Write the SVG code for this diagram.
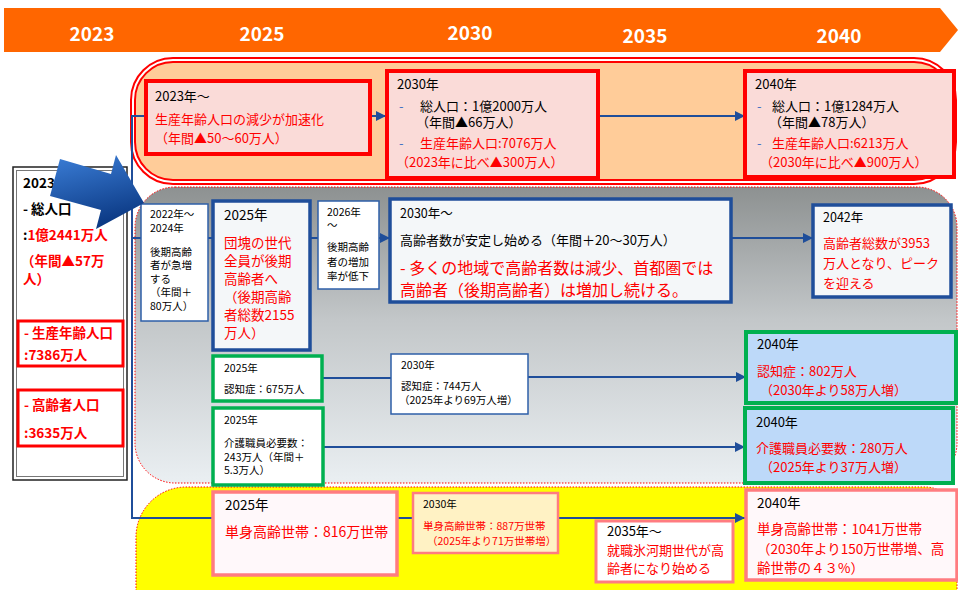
<svg xmlns="http://www.w3.org/2000/svg" width="958" height="590" viewBox="0 0 958 590">
<defs>
<style>
text{font-family:"Noto Sans CJK JP","Noto Sans",sans-serif;fill:#000}
.yr{font-size:19px;font-weight:bold;fill:#fff;text-anchor:middle}
.r{fill:#FF0000}
.bl{fill:#4472C4}
.bd{font-weight:bold}
.f10{font-size:10.5px}
.f12{font-size:12.5px}
.f13{font-size:13px}
.f135{font-size:13.5px}
.f14{font-size:14px}
.f16{font-size:16px}
.conn{fill:none;stroke:#1F4E9A;stroke-width:2}
.pinkbox{fill:#FADBD8;stroke:#FF0000;stroke-width:4}
.thinblue{fill:#FFFFFF;stroke:#2E5FA8;stroke-width:1.5}
.thickblue{fill:#F4F7F9;stroke:#1F4E9A;stroke-width:3.5}
.greenw{fill:#FFFFFF;stroke:#00B050;stroke-width:3.5}
.greenb{fill:#BDD9F9;stroke:#00B050;stroke-width:4}
.pk{fill:#FFF8FA;stroke:#FF7C80;stroke-width:3.5}
.dotted{stroke:#FF0000;stroke-width:1;stroke-dasharray:1.5 1.5}
.leftred{fill:none;stroke:#FF0000;stroke-width:3}
</style>
<linearGradient id="grayGrad" x1="0" y1="0" x2="0" y2="1">
<stop offset="0" stop-color="#8D9191"/>
<stop offset="0.45" stop-color="#C3C7C9"/>
<stop offset="1" stop-color="#EAEFF2"/>
</linearGradient>
<linearGradient id="arrowGrad" x1="0" y1="0" x2="0.3" y2="1">
<stop offset="0" stop-color="#3C7FD8"/>
<stop offset="1" stop-color="#0C3A85"/>
</linearGradient>
<marker id="ah" markerWidth="10" markerHeight="10" refX="10" refY="5" orient="auto" markerUnits="userSpaceOnUse">
<path d="M0,0 L10,5 L0,10 Z" fill="#1F4E9A"/>
</marker>
</defs>

<rect x="0" y="0" width="958" height="590" fill="#FFFFFF"/>

<g id="timeline">
<polygon points="4,8 940,8 958,30 940,52 4,52" fill="#FF6600"/>
<text class="yr" x="92" y="41">2023</text>
<text class="yr" x="262" y="41">2025</text>
<text class="yr" x="470" y="40">2030</text>
<text class="yr" x="645" y="43">2035</text>
<text class="yr" x="839" y="43">2040</text>
</g>

<g id="bands">
<rect x="131" y="58" width="825" height="126" rx="42" fill="#FFFFFF" stroke="#FF0000" stroke-width="2"/>
<rect x="135" y="62" width="817" height="118" rx="38" fill="#FFCC99" stroke="#FF0000" stroke-width="2"/>
<rect class="dotted" x="135" y="187" width="822" height="296" rx="40" fill="url(#grayGrad)"/>
<path class="dotted" d="M136,600 V537 A50,50 0 0 1 186,487 H925 A32,32 0 0 1 957,519 V600 Z" fill="#FFFF00"/>
</g>

<g id="connectors">
<path class="conn" d="M146,116 H132 V518 H745" marker-end="url(#ah)"/>
<path class="conn" d="M371,116 H386" marker-end="url(#ah)"/>
<path class="conn" d="M598,116 H745" marker-end="url(#ah)"/>
<path class="conn" d="M132,238 H390" marker-end="url(#ah)"/>
<path class="conn" d="M731,238 H813" marker-end="url(#ah)"/>
<path class="conn" d="M322,378 H391"/>
<path class="conn" d="M528,377 H746" marker-end="url(#ah)"/>
<path class="conn" d="M323,447 H745" marker-end="url(#ah)"/>
</g>

<g id="n-2023">
<rect x="13" y="167" width="114" height="313" fill="#FFFFFF" stroke="#222" stroke-width="1.5"/>
<rect x="16.5" y="170.5" width="107" height="306" fill="none" stroke="#777" stroke-width="1"/>
<text class="f135 bd" x="23" y="188">2023年</text>
<text class="f135 bd" x="23" y="214">- 総人口</text>
<text class="f135 bd" x="23" y="240">:<tspan class="r">1億2441万人</tspan></text>
<text class="f135 bd r" x="21" y="266">（年間▲57万</text>
<text class="f135 bd r" x="23" y="284">人）</text>
<rect class="leftred" x="18" y="321" width="105" height="45"/>
<text class="f135 bd r" x="24" y="338">- 生産年齢人口</text>
<text class="f135 bd r" x="24" y="360">:7386万人</text>
<rect class="leftred" x="18" y="390" width="105" height="56"/>
<text class="f135 bd r" x="24" y="410">- 高齢者人口</text>
<text class="f135 bd r" x="24" y="438">:3635万人</text>
</g>

<g id="n-2023-accel">
<rect class="pinkbox" x="146" y="81" width="224" height="73"/>
<text class="f13" x="155" y="101">2023年〜</text>
<text class="f13 r" x="155" y="124">生産年齢人口の減少が加速化</text>
<text class="f13 r" x="155" y="143">（年間▲50〜60万人）</text>
</g>

<g id="n-2030-pop">
<rect class="pinkbox" x="387" y="71" width="211" height="107"/>
<text class="f13" x="397" y="89">2030年</text>
<text class="f13 bl" x="399" y="111">-</text>
<text class="f13" x="420" y="111">総人口：1億2000万人</text>
<text class="f13" x="416" y="127">（年間▲66万人）</text>
<text class="f13 bl" x="399" y="148">-</text>
<text class="f13 r" x="420" y="148">生産年齢人口:7076万人</text>
<text class="f13 r" x="396" y="167">（2023年に比べ▲300万人）</text>
</g>

<g id="n-2040-pop">
<rect class="pinkbox" x="745" y="71" width="209" height="106"/>
<text class="f13" x="755" y="89">2040年</text>
<text class="f13 bl" x="757" y="111">-</text>
<text class="f13" x="772" y="111">総人口：1億1284万人</text>
<text class="f13" x="769" y="127">（年間▲78万人）</text>
<text class="f13 bl" x="757" y="148">-</text>
<text class="f13 r" x="772" y="148">生産年齢人口:6213万人</text>
<text class="f13 r" x="760" y="167">（2030年に比べ▲900万人）</text>
</g>

<g id="n-2022">
<rect class="thinblue" x="141" y="204" width="67" height="117"/>
<text class="f10" x="150" y="218">2022年〜</text>
<text class="f10" x="150" y="232">2024年</text>
<text class="f10" x="150" y="256">後期高齢</text>
<text class="f10" x="150" y="269">者が急増</text>
<text class="f10" x="150" y="283">する</text>
<text class="f10" x="150" y="296">（年間＋</text>
<text class="f10" x="150" y="310">80万人）</text>
</g>

<g id="n-2025">
<rect class="thickblue" x="213" y="201" width="97" height="149"/>
<text class="f135" x="224" y="220">2025年</text>
<text class="f135 r" x="224" y="248">団塊の世代</text>
<text class="f135 r" x="224" y="266">全員が後期</text>
<text class="f135 r" x="224" y="284">高齢者へ</text>
<text class="f135 r" x="224" y="302">（後期高齢</text>
<text class="f135 r" x="224" y="320">者総数2155</text>
<text class="f135 r" x="224" y="338">万人）</text>
</g>

<g id="n-2026">
<rect class="thinblue" x="318" y="201" width="61" height="88"/>
<text class="f10" x="327" y="216">2026年</text>
<text class="f10" x="327" y="229">〜</text>
<text class="f10" x="327" y="251">後期高齢</text>
<text class="f10" x="327" y="266">者の増加</text>
<text class="f10" x="327" y="280">率が低下</text>
</g>

<g id="n-2030-elder">
<rect class="thickblue" x="390" y="199" width="341" height="103"/>
<text class="f12" x="400" y="218">2030年〜</text>
<text class="f13" x="400" y="245">高齢者数が安定し始める（年間＋20〜30万人）</text>
<text class="f16 r" x="400" y="274">- 多くの地域で高齢者数は減少、首都圏では</text>
<text class="f16 r" x="400" y="296">高齢者（後期高齢者）は増加し続ける。</text>
</g>

<g id="n-2042">
<rect class="thickblue" x="813" y="205" width="138" height="92"/>
<text class="f12" x="823" y="222">2042年</text>
<text class="f13 r" x="823" y="248">高齢者総数が3953</text>
<text class="f13 r" x="823" y="268">万人となり、ピーク</text>
<text class="f13 r" x="823" y="288">を迎える</text>
</g>

<g id="n-dem-2025">
<rect class="greenw" x="213" y="356" width="109" height="45"/>
<text class="f10" x="224" y="372">2025年</text>
<text class="f10" x="224" y="393">認知症：675万人</text>
</g>

<g id="n-dem-2030">
<rect class="thinblue" x="391" y="354" width="137" height="60"/>
<text class="f10" x="401" y="369">2030年</text>
<text class="f10" x="401" y="390">認知症：744万人</text>
<text class="f10" x="399" y="404">（2025年より69万人増）</text>
</g>

<g id="n-dem-2040">
<rect class="greenb" x="746" y="332" width="210" height="71"/>
<text class="f13" x="757" y="349">2040年</text>
<text class="f13 r" x="757" y="376">認知症：802万人</text>
<text class="f13 r" x="760" y="395">（2030年より58万人増）</text>
</g>

<g id="n-care-2025">
<rect class="greenw" x="213" y="408" width="110" height="77"/>
<text class="f10" x="224" y="424">2025年</text>
<text class="f10" x="224" y="447">介護職員必要数：</text>
<text class="f10" x="224" y="461">243万人（年間＋</text>
<text class="f10" x="224" y="474">5.3万人）</text>
</g>

<g id="n-care-2040">
<rect class="greenb" x="745" y="408" width="208" height="75"/>
<text class="f13" x="756" y="427">2040年</text>
<text class="f13 r" x="756" y="453">介護職員必要数：280万人</text>
<text class="f13 r" x="760" y="472">（2025年より37万人増）</text>
</g>

<g id="n-single-2025">
<rect class="pk" x="213" y="492" width="184" height="83"/>
<text class="f135" x="225" y="510">2025年</text>
<text class="f14 r" x="225" y="537">単身高齢世帯：816万世帯</text>
</g>

<g id="n-single-2030">
<rect x="413" y="493" width="145" height="60" fill="#FFF2C4" stroke="#FF7C80" stroke-width="2.5"/>
<text class="f10" x="423" y="508">2030年</text>
<text class="f10 r" x="423" y="530">単身高齢世帯：887万世帯</text>
<text class="f10 r" x="427" y="545">（2025年より71万世帯増）</text>
</g>

<g id="n-hyoga">
<rect x="596" y="521" width="137" height="61" fill="#FFFFFF" stroke="#FF7C80" stroke-width="3"/>
<text class="f13" x="607" y="536">2035年〜</text>
<text class="f13 r" x="607" y="555">就職氷河期世代が高</text>
<text class="f13 r" x="607" y="573">齢者になり始める</text>
</g>

<g id="n-single-2040">
<rect class="pk" x="746" y="490" width="211" height="90"/>
<text class="f135" x="757" y="508">2040年</text>
<text class="f135 r" x="757" y="534">単身高齢世帯：1041万世帯</text>
<text class="f135 r" x="757" y="554">（2030年より150万世帯増、高</text>
<text class="f135 r" x="757" y="573">齢世帯の４３%）</text>
</g>

<g id="big-arrow">
<polygon points="60,159 111,174 116,155 144,203 96,229 101,210 50,196" fill="url(#arrowGrad)"/>
</g>
</svg>
